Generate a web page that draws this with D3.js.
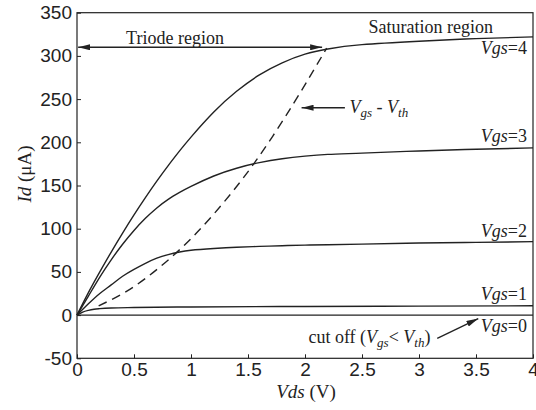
<!DOCTYPE html>
<html>
<head>
<meta charset="utf-8">
<script src="https://cdn.jsdelivr.net/npm/d3@7"></script>
<style>
  html, body { margin: 0; padding: 0; background: #fff; }
  svg { display: block; }
  .tick text { font-family: "Liberation Sans", Arial, sans-serif; font-size: 19px; fill: #222; }
  .serif { font-family: "Liberation Serif", "Times New Roman", serif; fill: #222; }
</style>
</head>
<body>
<svg id="chart" width="536" height="410"></svg>
<script>
// Drain current Id (µA) versus drain-source voltage Vds (V) for several gate voltages
const vdsGrid = [0, 0.1, 0.2, 0.3, 0.4, 0.5, 0.6, 0.7, 0.8, 0.9, 1.0, 1.2, 1.4, 1.6, 1.8, 2.0, 2.2, 2.5, 3.0, 3.5, 4.0];
const idVgs4 = [0, 26, 50, 73, 95, 116, 136, 155, 173, 190, 206, 235, 259, 278, 292, 302, 308, 313, 317, 320, 322];
const idVgs3 = [0, 22, 44, 64, 82, 98, 112, 124, 134, 142, 149, 161, 170, 176.5, 181, 184, 186, 187.5, 190, 192, 193.5];
const idVgs2 = [0, 13, 25, 35, 45, 53, 60, 66, 70, 73, 75, 77, 78.5, 79.5, 80.3, 81, 81.5, 82.2, 83.4, 84.2, 85];
const vdsGrid1 = [0, 0.05, 0.1, 0.15, 0.2, 0.3, 0.5, 1.0, 2.0, 3.0, 4.0];
const idVgs1 = [0, 3.5, 5.5, 6.8, 7.5, 8.3, 8.8, 9.4, 10, 10.4, 10.8];
const vdsGrid0 = [0, 4];
const idVgs0 = [0, 0];
// Saturation boundary Vds = Vgs - Vth
const boundaryVds = [0.19, 0.5, 0.87, 1.2, 1.55, 1.9, 2.19];
const boundaryId = [10.8, 33, 72, 117, 175, 245, 309];

const xTicks = [0, 0.5, 1, 1.5, 2, 2.5, 3, 3.5, 4];
const xTickLabels = ["0", "0.5", "1", "1.5", "2", "2.5", "3", "3.5", "4"];
const yTicks = [-50, 0, 50, 100, 150, 200, 250, 300, 350];
const yTickLabels = ["-50", "0", "50", "100", "150", "200", "250", "300", "350"];

const curveLabels = ["4", "3", "2", "1", "0"];
const curveLabelId = [302, 200, 90.5, 17.3, -19.3];

const svg = d3.select("#chart");
const ink = "#222";

const x = d3.scaleLinear().domain([0, 4]).range([77, 533]);
const y = d3.scaleLinear().domain([-50, 350]).range([358.3, 12.7]);

// arrowhead marker
const defs = svg.append("defs");
defs.append("marker")
  .attr("id", "head")
  .attr("viewBox", "0 0 12 6")
  .attr("refX", 12).attr("refY", 3)
  .attr("markerWidth", 12).attr("markerHeight", 6)
  .attr("markerUnits", "userSpaceOnUse")
  .attr("orient", "auto-start-reverse")
  .append("path").attr("d", "M0,0 L12,3 L0,6 Z").attr("fill", ink);

// axes with inward ticks
const xAxis = d3.axisBottom(x).tickValues(xTicks)
  .tickFormat((d, i) => xTickLabels[i]).tickSizeInner(-4).tickSizeOuter(0).tickPadding(4);
const yAxis = d3.axisLeft(y).tickValues(yTicks)
  .tickFormat((d, i) => yTickLabels[i]).tickSizeInner(-4).tickSizeOuter(0).tickPadding(5);

const gx = svg.append("g").attr("transform", `translate(0,${y(-50)})`).call(xAxis);
const gy = svg.append("g").attr("transform", `translate(${x(0)},0)`).call(yAxis);
[gx, gy].forEach(g => {
  g.select(".domain").remove();
  g.selectAll(".tick line").attr("stroke", ink).attr("stroke-width", 1);
});

// plot frame
svg.append("rect")
  .attr("x", x(0)).attr("y", y(350))
  .attr("width", x(4) - x(0)).attr("height", y(-50) - y(350))
  .attr("fill", "none").attr("stroke", ink).attr("stroke-width", 1.2);

const smoothLine = d3.line().x(d => x(d[0])).y(d => y(d[1])).curve(d3.curveNatural);
const monoLine = d3.line().x(d => x(d[0])).y(d => y(d[1])).curve(d3.curveMonotoneX);

const series = [
  [vdsGrid, idVgs4, smoothLine],
  [vdsGrid, idVgs3, smoothLine],
  [vdsGrid, idVgs2, smoothLine],
  [vdsGrid1, idVgs1, monoLine],
  [vdsGrid0, idVgs0, monoLine]
];
series.forEach(([xs, ys, gen]) => {
  svg.append("path")
    .datum(xs.map((v, i) => [v, ys[i]]))
    .attr("d", gen)
    .attr("fill", "none").attr("stroke", ink).attr("stroke-width", 1.4);
});

// dashed Vgs - Vth boundary
svg.append("path")
  .datum(boundaryVds.map((v, i) => [v, boundaryId[i]]))
  .attr("d", smoothLine)
  .attr("fill", "none").attr("stroke", ink).attr("stroke-width", 1.4)
  .attr("stroke-dasharray", "9,6");

// curve labels: italic Vgs with regular "=n"
curveLabels.forEach((n, i) => {
  const t = svg.append("text").attr("class", "serif")
    .attr("x", 527).attr("y", y(curveLabelId[i]))
    .attr("text-anchor", "end").attr("font-size", 18);
  t.append("tspan").attr("font-style", "italic").text("Vgs");
  t.append("tspan").text("=" + n);
});

// triode region double arrow
svg.append("line")
  .attr("x1", x(0.01)).attr("x2", x(2.15))
  .attr("y1", y(310)).attr("y2", y(310))
  .attr("stroke", ink).attr("stroke-width", 1.3)
  .attr("marker-start", "url(#head)").attr("marker-end", "url(#head)");
svg.append("text").attr("class", "serif")
  .attr("x", x(0.86)).attr("y", y(314)).attr("text-anchor", "middle")
  .attr("font-size", 18).text("Triode region");

svg.append("text").attr("class", "serif")
  .attr("x", 493).attr("y", y(327)).attr("text-anchor", "end")
  .attr("font-size", 18).text("Saturation region");

// Vgs - Vth pointer
svg.append("line")
  .attr("x1", x(2.35)).attr("x2", x(1.97))
  .attr("y1", y(240)).attr("y2", y(240))
  .attr("stroke", ink).attr("stroke-width", 1.3)
  .attr("marker-end", "url(#head)");
const vt = svg.append("text").attr("class", "serif")
  .attr("x", x(2.39)).attr("y", y(234)).attr("font-size", 18).attr("font-style", "italic");
vt.append("tspan").text("V");
vt.append("tspan").attr("font-size", 13).attr("dy", 4).text("gs");
vt.append("tspan").attr("font-style", "normal").attr("dy", -4).text(" - ");
vt.append("tspan").text("V");
vt.append("tspan").attr("font-size", 13).attr("dy", 4).text("th");

// cut-off pointer
svg.append("line")
  .attr("x1", x(3.16)).attr("y1", y(-27))
  .attr("x2", x(3.52)).attr("y2", y(-4))
  .attr("stroke", ink).attr("stroke-width", 1.3)
  .attr("marker-end", "url(#head)");
const co = svg.append("text").attr("class", "serif")
  .attr("x", x(2.03)).attr("y", y(-32)).attr("font-size", 18);
co.append("tspan").text("cut off (");
co.append("tspan").attr("font-style", "italic").text("V");
co.append("tspan").attr("font-style", "italic").attr("font-size", 13).attr("dy", 4).text("gs");
co.append("tspan").attr("dy", -4).text("< ");
co.append("tspan").attr("font-style", "italic").text("V");
co.append("tspan").attr("font-style", "italic").attr("font-size", 13).attr("dy", 4).text("th");
co.append("tspan").attr("dy", -4).text(")");

// axis titles
const xt = svg.append("text").attr("class", "serif")
  .attr("x", 306).attr("y", 398).attr("text-anchor", "middle").attr("font-size", 19);
xt.append("tspan").attr("font-style", "italic").text("Vds");
xt.append("tspan").text(" (V)");

const yt = svg.append("text").attr("class", "serif")
  .attr("transform", "translate(31,174) rotate(-90)")
  .attr("text-anchor", "middle").attr("font-size", 19);
yt.append("tspan").attr("font-style", "italic").text("Id");
yt.append("tspan").text(" (\u03bcA)");
</script>
</body>
</html>
